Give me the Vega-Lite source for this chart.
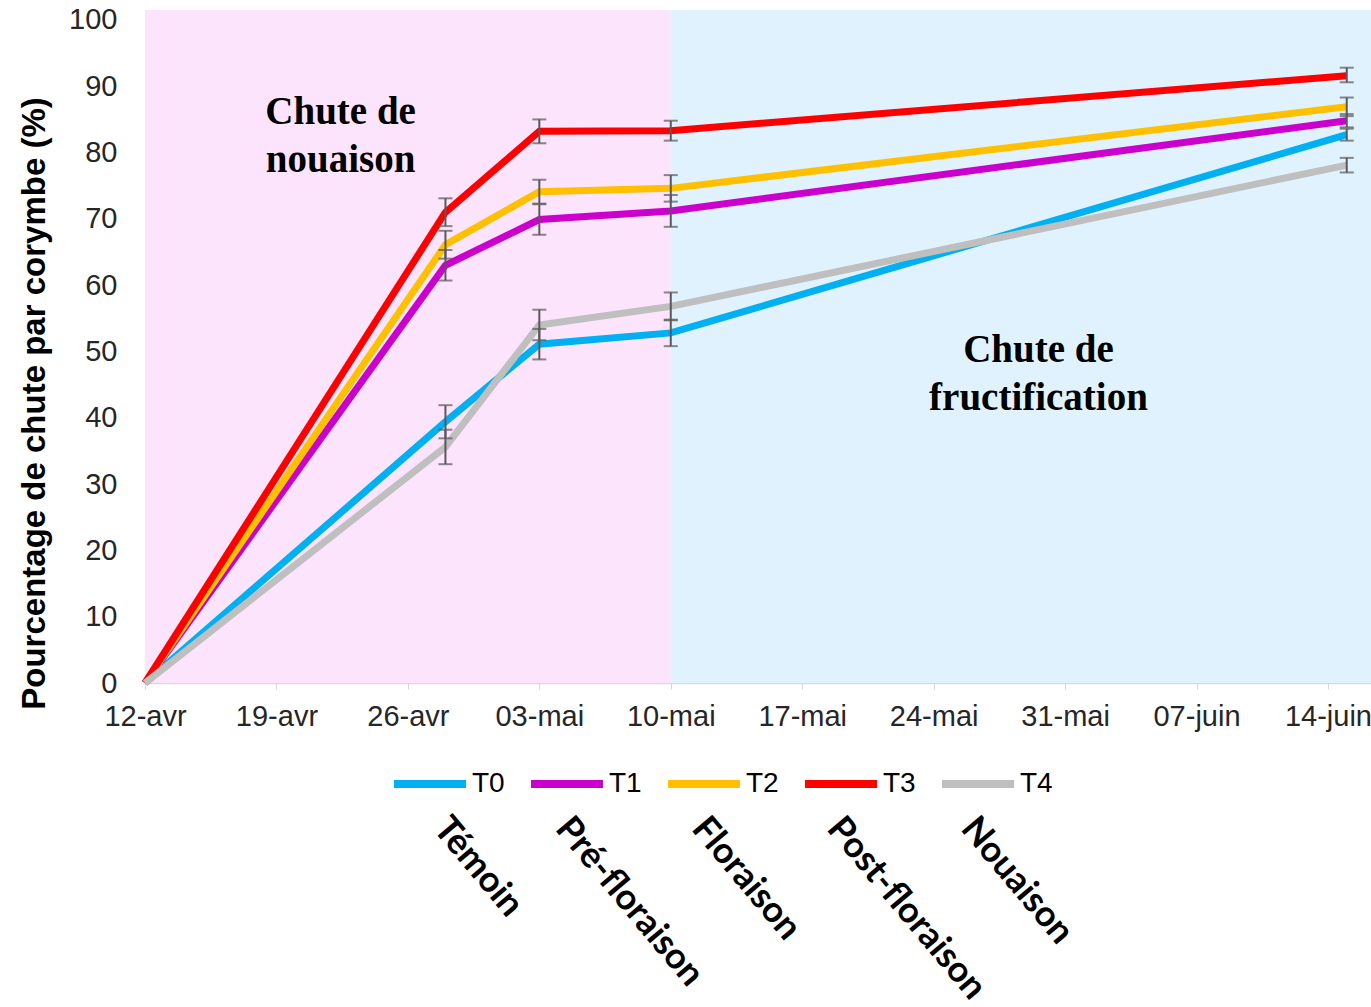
{
  "$schema": "https://vega.github.io/schema/vega-lite/v6.json",
  "autosize": "none",
  "width": 1226,
  "height": 673,
  "padding": {"left": 145, "top": 10, "right": 0, "bottom": 324},
  "background": "white",
  "config": {
    "view": {"stroke": null},
    "font": "Liberation Sans"
  },
  "datasets": {
    "series": [
      {"serie": "T0", "date": "2021-04-12", "value": 0, "lo": null, "hi": null},
      {"serie": "T0", "date": "2021-04-28", "value": 39.4, "lo": 36.9, "hi": 41.9},
      {"serie": "T0", "date": "2021-05-03", "value": 51.1, "lo": 48.8, "hi": 53.4},
      {"serie": "T0", "date": "2021-05-10", "value": 52.8, "lo": 50.8, "hi": 54.8},
      {"serie": "T0", "date": "2021-06-15", "value": 82.7, "lo": 81.8, "hi": 83.6},
      {"serie": "T1", "date": "2021-04-12", "value": 0, "lo": null, "hi": null},
      {"serie": "T1", "date": "2021-04-28", "value": 63.0, "lo": 60.7, "hi": 65.3},
      {"serie": "T1", "date": "2021-05-03", "value": 69.9, "lo": 67.6, "hi": 72.2},
      {"serie": "T1", "date": "2021-05-10", "value": 71.2, "lo": 68.8, "hi": 73.6},
      {"serie": "T1", "date": "2021-06-15", "value": 84.8, "lo": 83.8, "hi": 85.8},
      {"serie": "T2", "date": "2021-04-12", "value": 0, "lo": null, "hi": null},
      {"serie": "T2", "date": "2021-04-28", "value": 66.1, "lo": 64.0, "hi": 68.2},
      {"serie": "T2", "date": "2021-05-03", "value": 74.1, "lo": 72.3, "hi": 75.9},
      {"serie": "T2", "date": "2021-05-10", "value": 74.6, "lo": 72.6, "hi": 76.6},
      {"serie": "T2", "date": "2021-06-15", "value": 86.9, "lo": 85.5, "hi": 88.3},
      {"serie": "T3", "date": "2021-04-12", "value": 0, "lo": null, "hi": null},
      {"serie": "T3", "date": "2021-04-28", "value": 71.0, "lo": 68.9, "hi": 73.1},
      {"serie": "T3", "date": "2021-05-03", "value": 83.2, "lo": 81.4, "hi": 85.0},
      {"serie": "T3", "date": "2021-05-10", "value": 83.3, "lo": 81.8, "hi": 84.8},
      {"serie": "T3", "date": "2021-06-15", "value": 91.6, "lo": 90.6, "hi": 92.8},
      {"serie": "T4", "date": "2021-04-12", "value": 0, "lo": null, "hi": null},
      {"serie": "T4", "date": "2021-04-28", "value": 35.6, "lo": 33.0, "hi": 38.2},
      {"serie": "T4", "date": "2021-05-03", "value": 54.0, "lo": 51.7, "hi": 56.3},
      {"serie": "T4", "date": "2021-05-10", "value": 56.8, "lo": 54.7, "hi": 58.9},
      {"serie": "T4", "date": "2021-06-15", "value": 78.1, "lo": 77.0, "hi": 79.2}
    ],
    "zones": [
      {"zone": "nouaison", "start": "2021-04-12", "end": "2021-05-10"},
      {"zone": "fructification", "start": "2021-05-10", "end": "2021-06-16T07:00:00Z"}
    ],
    "notes": [
      {"text": "Chute de", "date": "2021-04-22T10:00:00Z", "y": 86.1},
      {"text": "nouaison", "date": "2021-04-22T10:00:00Z", "y": 78.9},
      {"text": "Chute de", "date": "2021-05-29T14:00:00Z", "y": 50.2},
      {"text": "fructification", "date": "2021-05-29T14:00:00Z", "y": 43.0}
    ],
    "stages": [
      {"text": "Témoin", "date": "2021-04-27T18:00:00Z", "y": -21.0},
      {"text": "Pré-floraison", "date": "2021-05-04T06:00:00Z", "y": -21.0},
      {"text": "Floraison", "date": "2021-05-11T12:00:00Z", "y": -21.0},
      {"text": "Post-floraison", "date": "2021-05-18T17:00:00Z", "y": -21.0},
      {"text": "Nouaison", "date": "2021-05-25T20:00:00Z", "y": -21.0}
    ]
  },
  "resolve": {"scale": {"color": "independent"}},
  "layer": [
    {
      "data": {"name": "zones"},
      "mark": {"type": "rect"},
      "encoding": {
        "x": {"field": "start", "type": "temporal", "scale": {"type": "utc", "domain": [{"year": 2021, "month": 4, "date": 12, "utc": true}, {"year": 2021, "month": 6, "date": 16, "hours": 7, "utc": true}]},
          "axis": {
            "values": [
              {"year": 2021, "month": 4, "date": 12, "utc": true},
              {"year": 2021, "month": 4, "date": 19, "utc": true},
              {"year": 2021, "month": 4, "date": 26, "utc": true},
              {"year": 2021, "month": 5, "date": 3, "utc": true},
              {"year": 2021, "month": 5, "date": 10, "utc": true},
              {"year": 2021, "month": 5, "date": 17, "utc": true},
              {"year": 2021, "month": 5, "date": 24, "utc": true},
              {"year": 2021, "month": 5, "date": 31, "utc": true},
              {"year": 2021, "month": 6, "date": 7, "utc": true},
              {"year": 2021, "month": 6, "date": 14, "utc": true}
            ],
            "labelExpr": "utcFormat(datum.value, '%d') + '-' + ['janv','févr','mars','avr','mai','juin','juil'][utcmonth(datum.value)]",
            "title": null,
            "grid": false,
            "domainColor": "#D9D9D9",
            "domainWidth": 1.5,
            "tickColor": "#D9D9D9",
            "tickSize": 6,
            "labelFontSize": 29,
            "labelColor": "#262626",
            "labelPadding": 13,
            "labelFlush": false,
            "labelOverlap": false
          }
        },
        "x2": {"field": "end"},
        "y": {"datum": 0, "type": "quantitative", "scale": {"domain": [0, 101.5], "nice": false},
          "title": "Pourcentage de chute par corymbe (%)",
          "axis": {
            "values": [0, 10, 20, 30, 40, 50, 60, 70, 80, 90, 100],
            "title": "Pourcentage de chute par corymbe (%)",
            "titleFontSize": 33,
            "titleFontWeight": "bold",
            "titleColor": "#000000",
            "titlePadding": 17,
            "titleY": 393,
            "grid": false,
            "domain": false,
            "ticks": false,
            "labelFontSize": 29,
            "labelColor": "#262626",
            "labelPadding": 28
          }
        },
        "y2": {"datum": 101.5},
        "color": {"field": "zone", "type": "nominal", "scale": {"domain": ["nouaison", "fructification"], "range": ["#FCE4FC", "#E0F2FD"]}, "legend": null}
      }
    },
    {
      "data": {"name": "series"},
      "mark": {"type": "line", "strokeWidth": 7, "strokeJoin": "miter", "strokeCap": "butt"},
      "encoding": {
        "x": {"field": "date", "type": "temporal"},
        "y": {"field": "value", "type": "quantitative", "title": "Pourcentage de chute par corymbe (%)"},
        "color": {
          "field": "serie", "type": "nominal",
          "scale": {"domain": ["T0", "T1", "T2", "T3", "T4"], "range": ["#00B0F0", "#CC00CC", "#FFC000", "#FF0000", "#BFBFBF"]},
          "legend": {
            "orient": "none",
            "legendX": 245,
            "legendY": 734,
            "direction": "horizontal",
            "title": null,
            "symbolType": "stroke",
            "symbolSize": 5184,
            "symbolStrokeWidth": 8,
            "labelFontSize": 28,
            "labelColor": "#000000",
            "labelOffset": 2,
            "columnPadding": 10
          }
        }
      }
    },
    {
      "data": {"name": "series"},
      "transform": [{"filter": "datum.lo != null"}],
      "mark": {"type": "errorbar", "ticks": {"size": 14, "thickness": 2, "color": "#595959"}, "rule": {"strokeWidth": 2, "color": "#595959"}},
      "encoding": {
        "x": {"field": "date", "type": "temporal"},
        "y": {"field": "lo", "type": "quantitative", "title": "Pourcentage de chute par corymbe (%)"},
        "y2": {"field": "hi"}
      }
    },
    {
      "data": {"name": "notes"},
      "mark": {"type": "text", "font": "Liberation Serif", "fontWeight": "bold", "fontSize": 39, "align": "center", "baseline": "middle", "color": "#000000"},
      "encoding": {
        "x": {"field": "date", "type": "temporal"},
        "y": {"field": "y", "type": "quantitative", "title": "Pourcentage de chute par corymbe (%)"},
        "text": {"field": "text"}
      }
    },
    {
      "data": {"name": "stages"},
      "mark": {"type": "text", "font": "Lato", "fontWeight": "bold", "fontSize": 36, "align": "left", "baseline": "middle", "angle": 50, "color": "#000000"},
      "encoding": {
        "x": {"field": "date", "type": "temporal"},
        "y": {"field": "y", "type": "quantitative", "title": "Pourcentage de chute par corymbe (%)"},
        "text": {"field": "text"}
      }
    }
  ]
}
